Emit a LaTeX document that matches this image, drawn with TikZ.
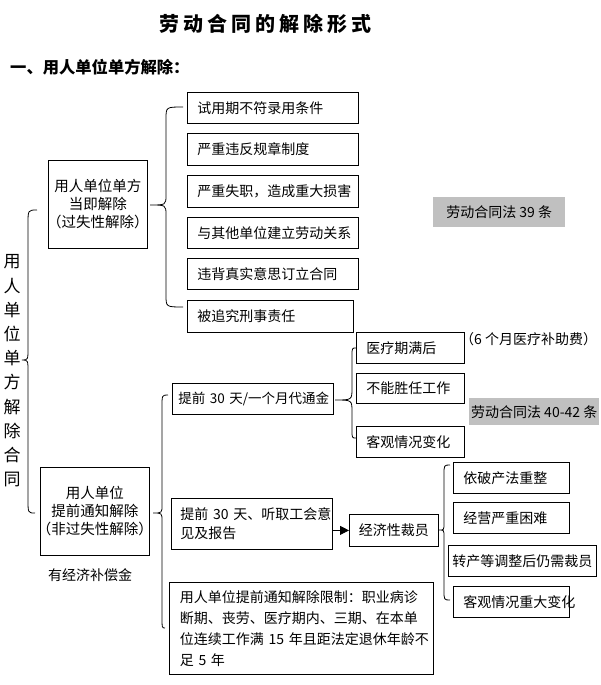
\documentclass[tikz,border=0pt]{standalone}
\usepackage{fontspec}
\setmainfont{Noto Sans CJK SC}
\newfontfamily\titlefont[LetterSpace=20]{Noto Sans CJK SC}
\usetikzlibrary{arrows.meta}
\definecolor{lawgray}{RGB}{192,192,192}
\newcommand{\curlybr}[9]{\draw[brc] (#1,#2) .. controls (#3,#2) .. (#3,#2+#8) -- (#3,#5-#9) .. controls (#3,#5) .. (#4,#5) .. controls (#3,#5) .. (#3,#5+#9) -- (#3,#7-#8) .. controls (#3,#7) .. (#6,#7);}

\begin{document}
\begin{tikzpicture}[x=1pt, y=-1pt,
	cell/.style={draw, line width=0.8pt, anchor=north west, align=left, inner xsep=10pt, inner ysep=0pt, font=\fontsize{14}{19}\selectfont},
	cat/.style={draw, line width=0.8pt, anchor=north west, align=center, inner sep=0pt, font=\fontsize{14.5}{18}\selectfont},
	law/.style={fill=lawgray, anchor=north west, align=center, inner sep=0pt, font=\fontsize{14}{18}\selectfont},
	plain/.style={inner sep=0pt, font=\fontsize{14}{18}\selectfont},
	brc/.style={line width=0.8pt}]
	\useasboundingbox (0,0) rectangle (600,685);

	\node [font=\titlefont\bfseries\fontsize{20}{24}\selectfont] (title) at (265,24) {劳动合同的解除形式};
	\node [anchor=west, inner sep=0pt, font=\bfseries\fontsize{16.3}{18}\selectfont] (sub) at (10,67) {一、用人单位单方解除：};
	\node [align=center, inner sep=0pt, font=\fontsize{17}{24.2}\selectfont] (vt) at (12,371) {用\\人\\单\\位\\单\\方\\解\\除\\合\\同};

	\node [cat, minimum width=99pt, minimum height=88pt] (c1) at (48,160) {用人单位单方\\当即解除\\\kern-4pt（过失性解除）\kern-4pt};
	\node [cat, minimum width=109pt, minimum height=88pt] (c2) at (40,467) {用人单位\\提前通知解除\\\kern-4pt（非过失性解除）\kern-4pt};
	\node [plain] (comp) at (90,575) {有经济补偿金};

	\node [cell, text width=151pt, minimum height=31pt] (r1) at (187,92) {试用期不符录用条件};
	\node [cell, text width=151pt, minimum height=32pt] (r2) at (187,133) {严重违反规章制度};
	\node [cell, text width=151pt, minimum height=32pt] (r3) at (187,175) {严重失职，造成重大损害};
	\node [cell, text width=151pt, minimum height=31pt] (r4) at (187,217) {与其他单位建立劳动关系};
	\node [cell, text width=151pt, minimum height=31pt] (r5) at (187,258) {违背真实意思订立合同};
	\node [cell, text width=146pt, minimum height=32pt] (r6) at (187,300) {被追究刑事责任};
	\node [law, minimum width=132pt, minimum height=30pt] (law1) at (433,197) {劳动合同法~39~条};

	\node [cell, inner xsep=6pt, text width=149pt, minimum height=31pt, font=\fontsize{13.5}{19}\selectfont] (n1) at (172,383) {提前~30~天/一个月代通金};
	\node [cell, text width=88pt, minimum height=31pt] (m1) at (356,332) {医疗期满后};
	\node [cell, text width=88pt, minimum height=30pt] (m2) at (356,373) {不能胜任工作};
	\node [cell, text width=88pt, minimum height=31pt] (m3) at (356,426) {客观情况变化};
	\node [plain, anchor=west] (aid) at (460,339) {（6~个月医疗补助费）};
	\node [law, minimum width=130pt, minimum height=27pt] (law2) at (469,398) {劳动合同法~40-42~条};

	\node [cell, inner xsep=9pt, text width=143pt, minimum height=51pt] (n2) at (171,498) {提前~30~天、听取工会意\\见及报告};
	\node [cat, minimum width=89pt, minimum height=32pt, font=\fontsize{14}{18}\selectfont] (cut) at (349,514) {经济性裁员};
	\node [cell, text width=96pt, minimum height=31pt] (k1) at (453,462) {依破产法重整};
	\node [cell, text width=96pt, minimum height=31pt] (k2) at (453,502) {经营严重困难};
	\node [cell, inner xsep=4pt, text width=140pt, minimum height=31pt] (k3) at (448,545) {转产等调整后仍需裁员};
	\node [cell, text width=96pt, minimum height=31pt] (k4) at (453,586) {客观情况重大变化};

	\node [cell, inner xsep=10.5pt, text width=243pt, minimum height=92pt, font=\fontsize{14}{21}\selectfont] (lim) at (169,582) {用人单位提前通知解除限制：职业病诊\\断期、丧劳、医疗期内、三期、在本单\\位连续工作满~15~年且距法定退休年龄不\\足~5~年};

	\draw [line width=0.8pt, -{Triangle[length=9pt, width=9pt]}] (n2.east |- cut.west) -- (cut.west);

	\curlybr{37}{210}{28}{22}{360}{35}{513}{14}{12}
	\curlybr{183}{107}{166}{150}{205}{183}{307}{12}{10}
	\curlybr{168}{395}{162}{153}{513}{165}{628}{12}{8}
	\curlybr{356}{348}{352}{335}{400}{356}{438}{8}{12}
	\curlybr{450}{465}{444}{439}{530}{450}{600}{10}{7}
\end{tikzpicture}
\end{document}
